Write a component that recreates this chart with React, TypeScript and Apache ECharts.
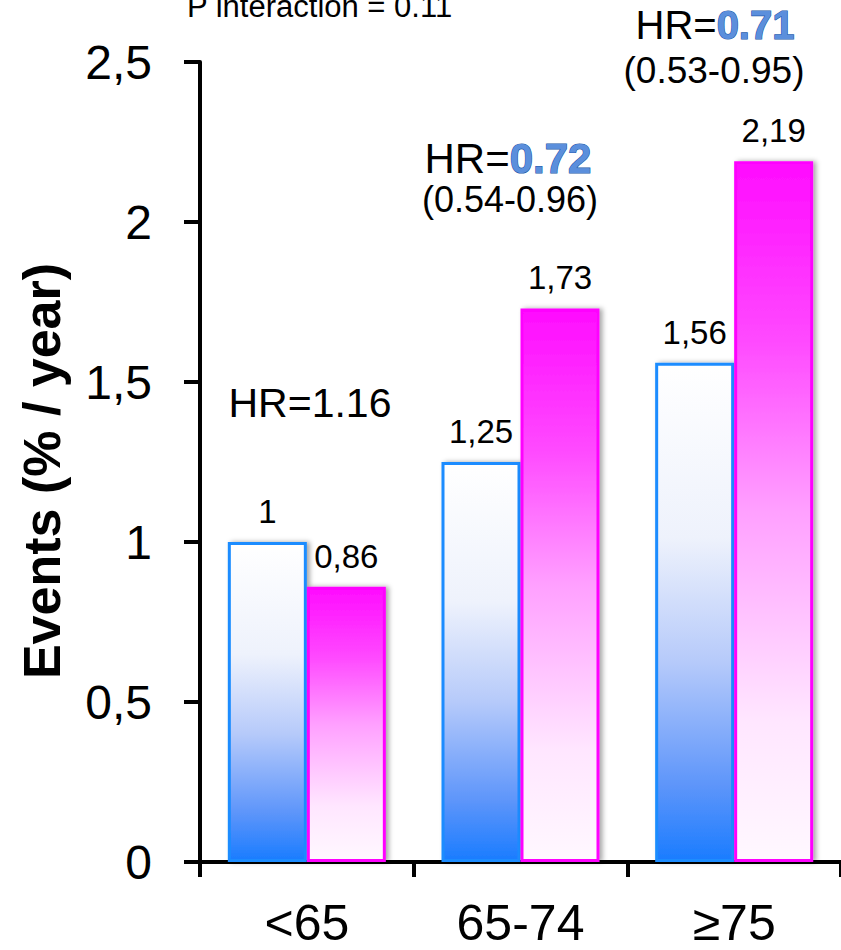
import React, { useEffect, useRef } from "react";
import * as echarts from "echarts";

const categories = ["<65", "65-74", "≥75"];
const seriesBlue = [1, 1.25, 1.56];
const seriesPink = [0.86, 1.73, 2.19];
const yMin = 0;
const yMax = 2.5;
const yInterval = 0.5;
const hrMain = ["HR=1.16", "HR=", "HR="];
const hrBold = ["", "0.72", "0.71"];
const hrCI = ["", "(0.54-0.96)", "(0.53-0.95)"];
const pInteraction = "P interaction = 0.11";
const yName = "Events (% / year)";

const FONT = 'Arial, "Liberation Sans", Helvetica, sans-serif';

const comma = (v: number) => String(v).replace(".", ",");

export default function App() {
  const ref = useRef<HTMLDivElement>(null);
  useEffect(() => {
    document.body.style.margin = "0";
    if (!ref.current) return;
    const chart = echarts.init(ref.current, null, { renderer: "svg" });

    const blueGrad = new echarts.graphic.LinearGradient(0, 0, 0, 1, [
      { offset: 0, color: "#ffffff" },
      { offset: 0.35, color: "#eef2fc" },
      { offset: 0.6, color: "#b6cafa" },
      { offset: 0.85, color: "#5d95fa" },
      { offset: 1, color: "#1a7cff" },
    ]);
    const pinkGrad = new echarts.graphic.LinearGradient(0, 0, 0, 1, [
      { offset: 0, color: "#ff0cff" },
      { offset: 0.25, color: "#ff48ff" },
      { offset: 0.5, color: "#ffa0ff" },
      { offset: 0.8, color: "#ffe6ff" },
      { offset: 1, color: "#fff8ff" },
    ]);

    const labelStyle = {
      show: true,
      position: "top" as const,
      distance: 14,
      fontSize: 33,
      fontFamily: FONT,
      color: "#000",
      formatter: (p: any) => comma(p.value),
    };

    const shadow = {
      shadowBlur: 5,
      shadowColor: "rgba(0,0,0,0.35)",
      shadowOffsetX: 3,
      shadowOffsetY: 0,
    };

    const boldBlue = (size: number) => ({
      fontSize: size,
      fontFamily: FONT,
      fontWeight: "bold",
      fill: "#5b8fdc",
      stroke: "#2458a8",
      lineWidth: 1.2,
    });

    chart.setOption({
      animation: false,
      grid: { left: 200, right: -1, top: 62, bottom: 88, containLabel: false },
      xAxis: {
        type: "category",
        data: categories,
        axisLine: { lineStyle: { color: "#000", width: 4 } },
        axisTick: { show: true, length: 15, lineStyle: { color: "#000", width: 4 } },
        axisLabel: { fontSize: 50, fontFamily: FONT, color: "#000", margin: 36 },
      },
      yAxis: {
        type: "value",
        min: yMin,
        max: yMax,
        interval: yInterval,
        splitLine: { show: false },
        axisLine: { show: true, lineStyle: { color: "#000", width: 4 } },
        axisTick: { show: true, length: 16, lineStyle: { color: "#000", width: 4 } },
        axisLabel: {
          fontSize: 48,
          fontFamily: FONT,
          color: "#000",
          margin: 48,
          formatter: (v: number) => comma(v),
        },
      },
      series: [
        {
          type: "bar",
          data: seriesBlue,
          barWidth: 79,
          barGap: "0%",
          itemStyle: { color: blueGrad, borderColor: "#1a8cff", borderWidth: 3, ...shadow },
          label: labelStyle,
        },
        {
          type: "bar",
          data: seriesPink,
          barWidth: 79,
          barGap: "0%",
          itemStyle: { color: pinkGrad, borderColor: "#ff00ff", borderWidth: 3, ...shadow },
          label: labelStyle,
        },
      ],
      graphic: [
        {
          type: "text",
          x: 42,
          y: 471,
          rotation: Math.PI / 2,
          style: {
            text: yName,
            font: `bold 52px ${FONT}`,
            fill: "#000",
            align: "center",
            verticalAlign: "middle",
          },
        },
        {
          type: "text",
          x: 187,
          y: 6,
          style: {
            text: pInteraction,
            font: `31px ${FONT}`,
            fill: "#000",
            align: "left",
            verticalAlign: "middle",
          },
        },
        {
          type: "text",
          x: 310,
          y: 403,
          style: {
            text: hrMain[0],
            font: `41px ${FONT}`,
            fill: "#000",
            align: "center",
            verticalAlign: "middle",
          },
        },
        {
          type: "text",
          x: 508,
          y: 158,
          style: {
            text: `{a|${hrMain[1]}}{b|${hrBold[1]}}`,
            align: "center",
            verticalAlign: "middle",
            rich: {
              a: { fontSize: 42, fontFamily: FONT, fill: "#000" },
              b: boldBlue(42),
            },
          },
        },
        {
          type: "text",
          x: 510,
          y: 199,
          style: {
            text: hrCI[1],
            font: `36px ${FONT}`,
            fill: "#000",
            align: "center",
            verticalAlign: "middle",
          },
        },
        {
          type: "text",
          x: 715,
          y: 25,
          style: {
            text: `{a|${hrMain[2]}}{b|${hrBold[2]}}`,
            align: "center",
            verticalAlign: "middle",
            rich: {
              a: { fontSize: 40, fontFamily: FONT, fill: "#000" },
              b: boldBlue(40),
            },
          },
        },
        {
          type: "text",
          x: 714,
          y: 70,
          style: {
            text: hrCI[2],
            font: `37px ${FONT}`,
            fill: "#000",
            align: "center",
            verticalAlign: "middle",
          },
        },
      ],
    });
    return () => chart.dispose();
  }, []);
  return <div ref={ref} style={{ width: 841, height: 950 }} />;
}
